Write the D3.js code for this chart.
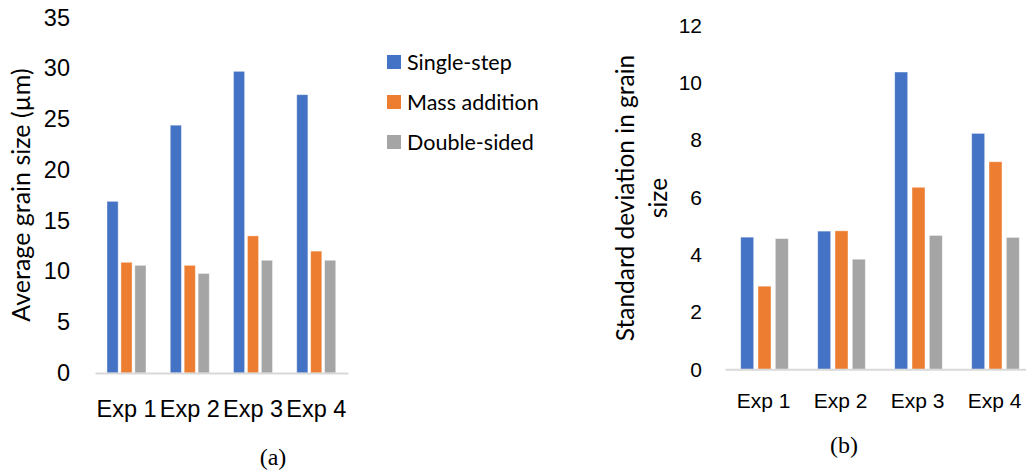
<!DOCTYPE html>
<html>
<head>
<meta charset="utf-8">
<script src="https://d3js.org/d3.v7.min.js"></script>
<style>
  body { margin: 0; padding: 0; background: #fff; }
  svg { display: block; font-family: Lato, "Open Sans", sans-serif; }
  .axis .domain { stroke: #d9d9d9; stroke-width: 2; }
  .axis line { stroke: none; }
  .axis text { fill: #000; }
  .caption { font-family: "Liberation Serif", "Times New Roman", serif; font-size: 24px; }
</style>
</head>
<body>
<div id="chart"></div>
<script>
// data
var experiments = ["Exp 1", "Exp 2", "Exp 3", "Exp 4"];
var seriesNames = ["Single-step", "Mass addition", "Double-sided"];
var colors = ["#4472c4", "#ed7d31", "#a5a5a5"];

var avgSingle = [16.9, 24.4, 29.7, 27.4];
var avgMass = [10.9, 10.6, 13.5, 12.0];
var avgDouble = [10.6, 9.8, 11.1, 11.1];
var avgTicks = [0, 5, 10, 15, 20, 25, 30, 35];

var sdSingle = [4.61, 4.82, 10.37, 8.23];
var sdMass = [2.9, 4.83, 6.35, 7.24];
var sdDouble = [4.56, 3.84, 4.67, 4.6];
var sdTicks = [0, 2, 4, 6, 8, 10, 12];

var svg = d3.select("#chart").append("svg")
  .attr("width", 1026)
  .attr("height", 472);

function drawPanel(opt) {
  var rows = experiments.map(function(e, i) {
    return {exp: e, values: opt.series.map(function(s, k) { return {name: seriesNames[k], value: s[i], k: k}; })};
  });

  var y = d3.scaleLinear().domain(opt.domain).range([opt.bottom, opt.top]);
  var x0 = d3.scaleBand().domain(experiments).range([opt.left, opt.right]);
  var x1 = d3.scaleBand().domain(seriesNames).range(opt.inner).paddingInner(opt.gap);

  var g = svg.append("g");

  // y axis labels only
  g.append("g")
    .attr("class", "axis")
    .attr("transform", "translate(" + opt.left + ",0)")
    .style("font-size", opt.font + "px")
    .call(d3.axisLeft(y).tickValues(opt.ticks).tickSize(0).tickPadding(opt.yPad))
    .select(".domain").remove();

  var groups = g.selectAll(".grp")
    .data(rows)
    .enter().append("g")
    .attr("class", "grp")
    .attr("transform", function(d) { return "translate(" + x0(d.exp) + ",0)"; });

  groups.selectAll("rect")
    .data(function(d) { return d.values; })
    .enter().append("rect")
    .attr("x", function(d) { return x1(d.name); })
    .attr("width", x1.bandwidth())
    .attr("y", function(d) { return y(d.value); })
    .attr("height", function(d) { return y(0) - y(d.value); })
    .attr("fill", function(d) { return colors[d.k]; })
    .attr("stroke", "#fff")
    .attr("stroke-opacity", 0.5)
    .attr("stroke-width", 0.8);

  // category axis
  g.append("g")
    .attr("class", "axis")
    .attr("transform", "translate(0," + y(0) + ")")
    .style("font-size", opt.font + "px")
    .call(d3.axisBottom(x0).tickSize(0).tickSizeOuter(0).tickPadding(opt.xPad));

  return g;
}

// panel (a)
drawPanel({
  series: [avgSingle, avgMass, avgDouble],
  domain: [0, 35], ticks: avgTicks,
  top: 17.5, bottom: 373, left: 95, right: 348,
  inner: [12, 51], gap: 0.2,
  font: 23.5, yPad: 25, xPad: 27
});

svg.append("text")
  .attr("transform", "translate(30,195) rotate(-90)")
  .attr("text-anchor", "middle")
  .style("font-size", "25px")
  .text("Average grain size (µm)");

// legend
var legend = svg.append("g").selectAll("g")
  .data(seriesNames)
  .enter().append("g")
  .attr("transform", function(d, i) { return "translate(387," + (62 + i * 40) + ")"; });

legend.append("rect")
  .attr("x", 0).attr("y", -7)
  .attr("width", 14).attr("height", 14)
  .attr("fill", function(d, i) { return colors[i]; });

legend.append("text")
  .attr("x", 20)
  .attr("dy", "0.35em")
  .style("font-size", "21.5px")
  .text(function(d) { return d; });

svg.append("text")
  .attr("class", "caption")
  .attr("x", 273).attr("y", 465)
  .attr("text-anchor", "middle")
  .text("(a)");

// panel (b)
drawPanel({
  series: [sdSingle, sdMass, sdDouble],
  domain: [0, 12], ticks: sdTicks,
  top: 25.3, bottom: 369.3, left: 725, right: 1033,
  inner: [15.7, 63.3], gap: 0.25,
  font: 21, yPad: 23, xPad: 24
});

var title = svg.append("text")
  .attr("transform", "translate(634,198) rotate(-90)")
  .attr("text-anchor", "middle")
  .style("font-size", "24.5px");
title.append("tspan").attr("x", 0).attr("y", 0).text("Standard deviation in grain");
title.append("tspan").attr("x", 0).attr("y", 33).text("size");

svg.append("text")
  .attr("class", "caption")
  .attr("x", 844).attr("y", 453)
  .attr("text-anchor", "middle")
  .text("(b)");
</script>
</body>
</html>
